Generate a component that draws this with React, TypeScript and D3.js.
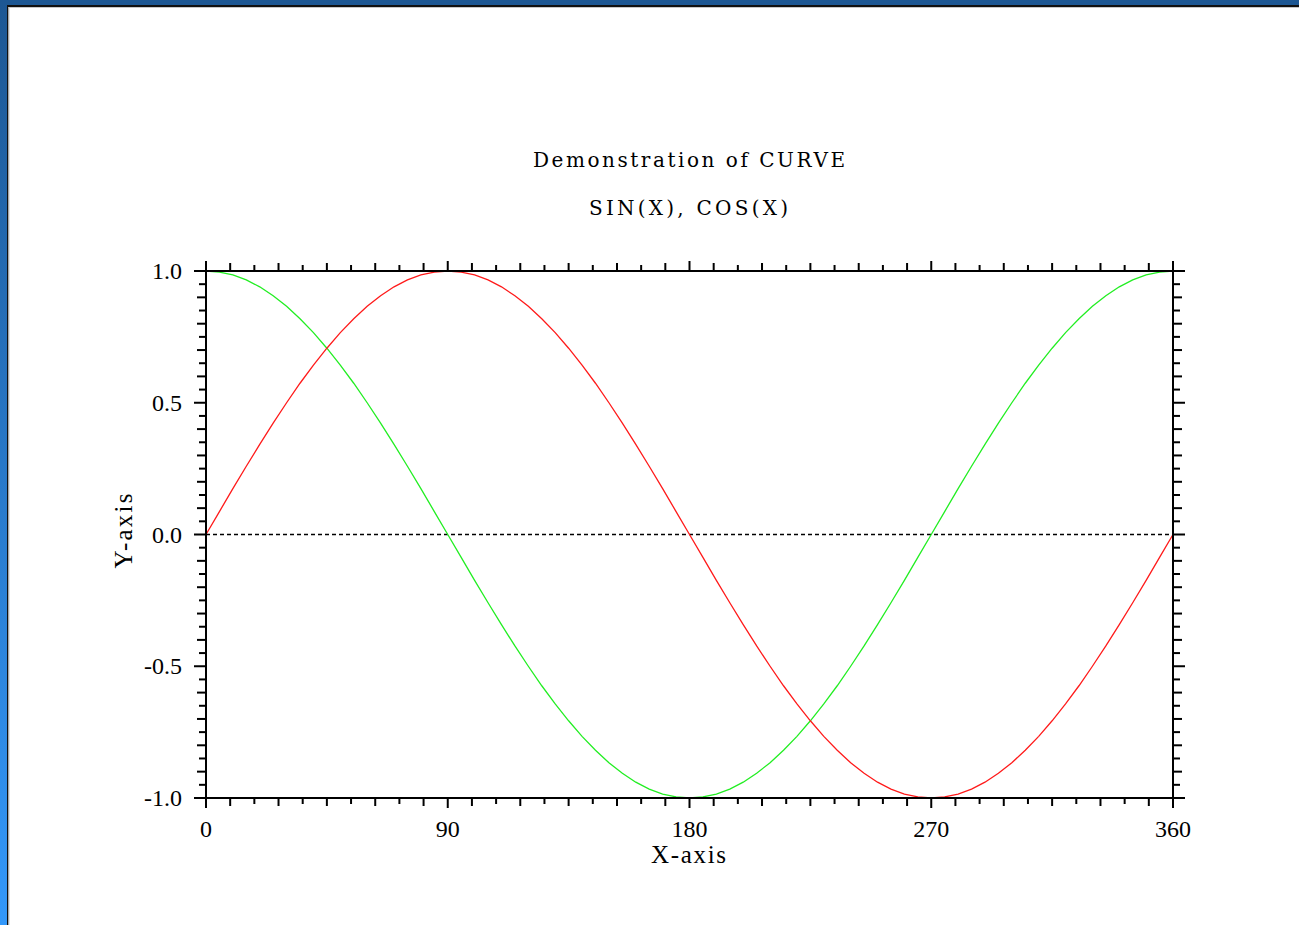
import React from "react";
import * as d3 from "d3";

// Sample angles in degrees
const DEGREES = [
  0, 5, 10, 15, 20, 25, 30, 35, 40, 45, 50, 55, 60, 65, 70, 75, 80, 85, 90,
  95, 100, 105, 110, 115, 120, 125, 130, 135, 140, 145, 150, 155, 160, 165, 170, 175, 180,
  185, 190, 195, 200, 205, 210, 215, 220, 225, 230, 235, 240, 245, 250, 255, 260, 265, 270,
  275, 280, 285, 290, 295, 300, 305, 310, 315, 320, 325, 330, 335, 340, 345, 350, 355, 360,
];

// SIN(X) at each angle
const SIN_X = [
  0.0, 0.087, 0.174, 0.259, 0.342, 0.423, 0.5, 0.574, 0.643, 0.707, 0.766, 0.819, 0.866, 0.906, 0.94, 0.966, 0.985, 0.996, 1.0,
  0.996, 0.985, 0.966, 0.94, 0.906, 0.866, 0.819, 0.766, 0.707, 0.643, 0.574, 0.5, 0.423, 0.342, 0.259, 0.174, 0.087, 0.0,
  -0.087, -0.174, -0.259, -0.342, -0.423, -0.5, -0.574, -0.643, -0.707, -0.766, -0.819, -0.866, -0.906, -0.94, -0.966, -0.985, -0.996, -1.0,
  -0.996, -0.985, -0.966, -0.94, -0.906, -0.866, -0.819, -0.766, -0.707, -0.643, -0.574, -0.5, -0.423, -0.342, -0.259, -0.174, -0.087, 0.0,
];

// COS(X) at each angle
const COS_X = [
  1.0, 0.996, 0.985, 0.966, 0.94, 0.906, 0.866, 0.819, 0.766, 0.707, 0.643, 0.574, 0.5, 0.423, 0.342, 0.259, 0.174, 0.087, 0.0,
  -0.087, -0.174, -0.259, -0.342, -0.423, -0.5, -0.574, -0.643, -0.707, -0.766, -0.819, -0.866, -0.906, -0.94, -0.966, -0.985, -0.996, -1.0,
  -0.996, -0.985, -0.966, -0.94, -0.906, -0.866, -0.819, -0.766, -0.707, -0.643, -0.574, -0.5, -0.423, -0.342, -0.259, -0.174, -0.087, 0.0,
  0.087, 0.174, 0.259, 0.342, 0.423, 0.5, 0.574, 0.643, 0.707, 0.766, 0.819, 0.866, 0.906, 0.94, 0.966, 0.985, 0.996, 1.0,
];

const X_TICKS = [0, 90, 180, 270, 360];
const X_TICK_LABELS = ["0", "90", "180", "270", "360"];
const Y_TICKS = [-1, -0.5, 0, 0.5, 1];
const Y_TICK_LABELS = ["-1.0", "-0.5", "0.0", "0.5", "1.0"];

const TITLE = "Demonstration of CURVE";
const SUBTITLE = "SIN(X), COS(X)";
const X_LABEL = "X-axis";
const Y_LABEL = "Y-axis";

const W = 1299;
const H = 925;
const FONT = "'Liberation Serif', 'Times New Roman', serif";
const TITLE_FONT = "'DejaVu Serif', 'Liberation Serif', serif";

export default function App() {
  const x = d3.scaleLinear().domain([0, 360]).range([206, 1173]);
  const y = d3.scaleLinear().domain([-1, 1]).range([798, 271]);

  const [x0, x1] = x.range();
  const [y0, y1] = y.range();

  const sinPts: [number, number][] = DEGREES.map((d, i) => [d, SIN_X[i]]);
  const cosPts: [number, number][] = DEGREES.map((d, i) => [d, COS_X[i]]);
  const line = d3
    .line<[number, number]>()
    .x((d) => x(d[0]))
    .y((d) => y(d[1]));

  // Minor ticks every 9 degrees / every 0.05
  const xMinor = d3.range(0, 361, 9).filter((d) => d % 90 !== 0);
  const yMinor = d3.range(-20, 21).filter((k) => k % 10 !== 0).map((k) => k / 20);

  const ink = "#000";
  const sw = 2;

  return (
    <div style={{ position: "absolute", left: 0, top: 0, width: W, height: H }}>
      <svg width={W} height={H} style={{ display: "block" }}>
        <defs>
          <linearGradient id="frameBlue" x1="0" y1="0" x2="0" y2="1">
            <stop offset="0%" stopColor="#1d5793" />
            <stop offset="50%" stopColor="#2878c8" />
            <stop offset="100%" stopColor="#3398fa" />
          </linearGradient>
        </defs>
        <rect x={0} y={0} width={W} height={H} fill="#fff" />
        {/* window frame */}
        <rect x={0} y={0} width={W} height={5} fill="#1d5793" />
        <rect x={0} y={0} width={7} height={H} fill="url(#frameBlue)" />
        <rect x={7} y={5} width={W - 7} height={2} fill="#111" />
        <rect x={7} y={5} width={1.5} height={H - 5} fill="#111" />
        <rect x={8.5} y={7} width={W - 8.5} height={1} fill="#c8c8c8" />
        <rect x={8.5} y={7} width={1} height={H - 7} fill="#c8c8c8" />

        {/* titles */}
        <text
          x={689}
          y={167}
          textAnchor="middle"
          fontFamily={TITLE_FONT}
          fontSize={20}
          textLength={312}
          lengthAdjust="spacing"
          fill="#000"
        >
          {TITLE}
        </text>
        <text
          x={688.5}
          y={215}
          textAnchor="middle"
          fontFamily={TITLE_FONT}
          fontSize={20}
          textLength={199}
          lengthAdjust="spacing"
          fill="#000"
        >
          {SUBTITLE}
        </text>

        {/* zero reference line */}
        <line
          x1={x0}
          x2={x1}
          y1={y(0)}
          y2={y(0)}
          stroke="#000"
          strokeWidth={1.3}
          strokeDasharray="4,3"
        />

        {/* curves */}
        <path d={line(cosPts) || ""} fill="none" stroke="#22ee22" strokeWidth={1.3} />
        <path d={line(sinPts) || ""} fill="none" stroke="#ff1a1a" strokeWidth={1.3} />

        {/* frame box */}
        <rect x={x0} y={y1} width={x1 - x0} height={y0 - y1} fill="none" stroke={ink} strokeWidth={sw} />

        {/* x ticks, bottom and top */}
        {xMinor.map((d) => {
          const len = (d / 9) % 2 === 1 ? 8 : 6;
          return (
            <g key={"xm" + d} stroke={ink} strokeWidth={sw}>
              <line x1={x(d)} x2={x(d)} y1={y0} y2={y0 + len} />
              <line x1={x(d)} x2={x(d)} y1={y1} y2={y1 - len} />
            </g>
          );
        })}
        {X_TICKS.map((d) => (
          <g key={"xM" + d} stroke={ink} strokeWidth={sw}>
            <line x1={x(d)} x2={x(d)} y1={y0} y2={y0 + 10} />
            <line x1={x(d)} x2={x(d)} y1={y1} y2={y1 - 10} />
          </g>
        ))}

        {/* y ticks, left and right */}
        {yMinor.map((v) => {
          const k = Math.round(v * 20);
          const len = Math.abs(k) % 2 === 0 ? 9 : 7;
          return (
            <g key={"ym" + k} stroke={ink} strokeWidth={sw}>
              <line x1={x0} x2={x0 - len} y1={y(v)} y2={y(v)} />
              <line x1={x1} x2={x1 + len} y1={y(v)} y2={y(v)} />
            </g>
          );
        })}
        {Y_TICKS.map((v) => (
          <g key={"yM" + v} stroke={ink} strokeWidth={sw}>
            <line x1={x0} x2={x0 - 12} y1={y(v)} y2={y(v)} />
            <line x1={x1} x2={x1 + 12} y1={y(v)} y2={y(v)} />
          </g>
        ))}

        {/* tick labels */}
        {X_TICKS.map((d, i) => (
          <text
            key={"xl" + d}
            x={x(d)}
            y={y0 + 39}
            textAnchor="middle"
            fontFamily={FONT}
            fontSize={24}
            fill="#000"
          >
            {X_TICK_LABELS[i]}
          </text>
        ))}
        {Y_TICKS.map((v, i) => (
          <text
            key={"yl" + v}
            x={182}
            y={y(v) + 8}
            textAnchor="end"
            fontFamily={FONT}
            fontSize={24}
            fill="#000"
          >
            {Y_TICK_LABELS[i]}
          </text>
        ))}

        {/* axis titles */}
        <text
          x={688.5}
          y={863}
          textAnchor="middle"
          fontFamily={FONT}
          fontSize={25}
          textLength={75}
          lengthAdjust="spacing"
          fill="#000"
        >
          {X_LABEL}
        </text>
        <text
          transform={`translate(132, 531) rotate(-90)`}
          textAnchor="middle"
          fontFamily={FONT}
          fontSize={25}
          textLength={75}
          lengthAdjust="spacing"
          fill="#000"
        >
          {Y_LABEL}
        </text>
      </svg>
    </div>
  );
}
